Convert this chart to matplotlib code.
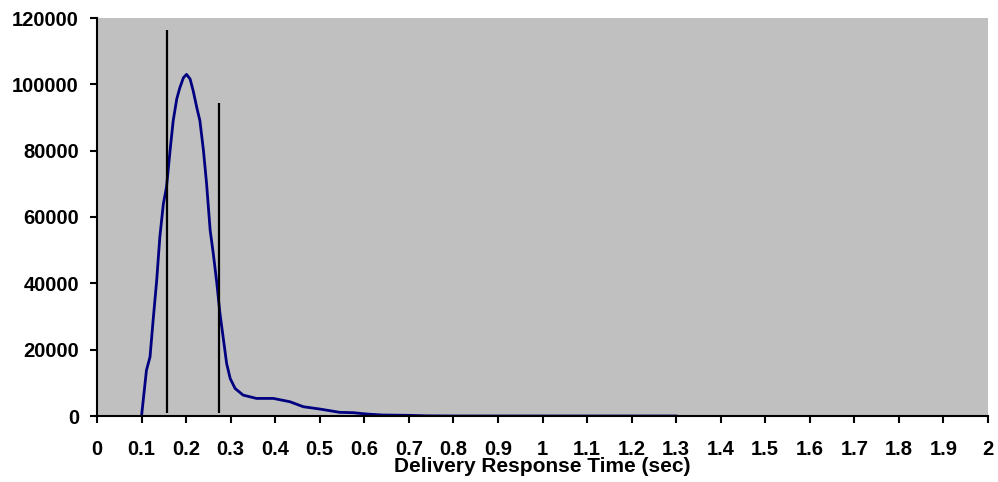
import matplotlib
matplotlib.use("Agg")
import matplotlib.pyplot as plt

# Response-time distribution curve
resp_time = [0.100, 0.111, 0.119, 0.126, 0.134, 0.141, 0.149, 0.156, 0.164, 0.171,
             0.179, 0.186, 0.194, 0.201, 0.209, 0.216, 0.224, 0.231, 0.239, 0.246,
             0.254, 0.261, 0.269, 0.276, 0.284, 0.291, 0.299, 0.310, 0.328, 0.358,
             0.396, 0.433, 0.463, 0.500, 0.545, 0.575, 0.605, 0.640, 0.700, 0.740,
             0.800, 1.000, 1.200, 1.300]
counts = [0, 13800, 17800, 28900, 40900, 53900, 64000, 69000, 80000, 89000,
          95600, 99000, 102000, 103000, 101600, 98000, 93000, 89000, 80000, 70000,
          56000, 49000, 40000, 30900, 22900, 15800, 11300, 8300, 6300, 5300,
          5300, 4300, 2800, 2100, 1100, 1000, 600, 300, 200, 50,
          0, 0, 0, 0]

# Marker lines
marker_x = [0.158, 0.274]
marker_bottom = [800, 800]
marker_top = [116400, 94300]

x_ticks = [0, 0.1, 0.2, 0.3, 0.4, 0.5, 0.6, 0.7, 0.8, 0.9, 1, 1.1, 1.2, 1.3,
           1.4, 1.5, 1.6, 1.7, 1.8, 1.9, 2]
x_ticklabels = ["0", "0.1", "0.2", "0.3", "0.4", "0.5", "0.6", "0.7", "0.8", "0.9",
                "1", "1.1", "1.2", "1.3", "1.4", "1.5", "1.6", "1.7", "1.8", "1.9", "2"]
y_ticks = [0, 20000, 40000, 60000, 80000, 100000, 120000]
y_ticklabels = ["0", "20000", "40000", "60000", "80000", "100000", "120000"]

plt.rcParams['font.family'] = ['Liberation Sans', 'DejaVu Sans']

fig = plt.figure(figsize=(9.98, 4.82), dpi=100)
ax = fig.add_axes([97/998, 66/482, (988-97)/998, (416-18)/482])
ax.set_facecolor('#C0C0C0')

ax.plot(resp_time, counts, color='#000080', lw=2.0, solid_joinstyle='round')
ax.vlines(marker_x, marker_bottom, marker_top, colors='black', lw=1.6)

ax.set_xlim(0, 2)
ax.set_ylim(0, 120000)
ax.set_xticks(x_ticks)
ax.set_xticklabels(x_ticklabels)
ax.set_yticks(y_ticks)
ax.set_yticklabels(y_ticklabels)

for s in ['top', 'right']:
    ax.spines[s].set_visible(False)
for s in ['left', 'bottom']:
    ax.spines[s].set_color('black')
    ax.spines[s].set_linewidth(1.5)

ax.tick_params(axis='x', direction='out', length=5, width=1.5, pad=12.5,
               labelsize=14.5)
ax.tick_params(axis='y', direction='out', length=5, width=1.5, pad=8,
               labelsize=14.5)
for lab in ax.get_xticklabels() + ax.get_yticklabels():
    lab.set_fontweight('bold')

ax.set_xlabel('Delivery Response Time (sec)', fontsize=15, fontweight='bold',
              labelpad=-2)

fig.savefig('out.png', dpi=100)
